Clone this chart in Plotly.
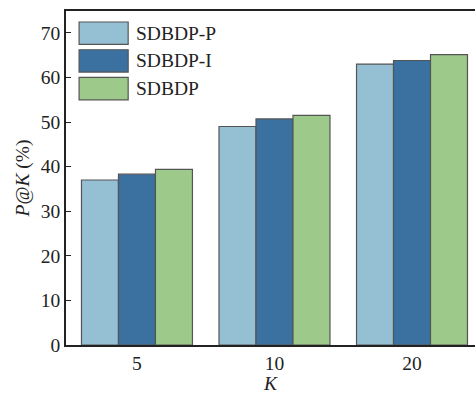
import plotly.graph_objects as go

categories = ["5", "10", "20"]
series_names = ["SDBDP-P", "SDBDP-I", "SDBDP"]
sdbdp_p = [37.0, 49.0, 63.0]
sdbdp_i = [38.3, 50.7, 63.8]
sdbdp = [39.4, 51.5, 65.1]
colors = ["#95bfd3", "#3a71a0", "#9dc98a"]
y_ticks = [0, 10, 20, 30, 40, 50, 60, 70]

FONT = "Liberation Serif"
FS = 19.5

fig = go.Figure()
for name, vals, col in zip(series_names, [sdbdp_p, sdbdp_i, sdbdp], colors):
    fig.add_trace(go.Bar(x=categories, y=vals, name=name, marker=dict(color=col, line=dict(color="#555555", width=1.2)), showlegend=False))

# manual legend with large swatches
for i, (name, col) in enumerate(zip(series_names, colors)):
    y0 = 0.967 - i * 0.083
    fig.add_shape(type="rect", xref="paper", yref="paper", x0=0.032, x1=0.152, y0=y0 - 0.067, y1=y0,
                  fillcolor=col, line=dict(color="#555555", width=1.2))
    fig.add_annotation(xref="paper", yref="paper", x=0.166, y=y0 - 0.0335, text=name, showarrow=False,
                       xanchor="left", yanchor="middle", font=dict(family=FONT, size=FS, color="#222"))

fig.update_layout(
    width=475, height=394,
    margin=dict(l=66, r=0, t=11, b=49),
    paper_bgcolor="white", plot_bgcolor="white",
    barmode="group", bargap=0.193, bargroupgap=0,
    font=dict(family=FONT, size=FS, color="#222"),
    xaxis=dict(range=[-0.516, 2.458], showline=True, linecolor="#222", linewidth=1.5, mirror=True,
               ticks="", showgrid=False, tickfont=dict(size=FS),
               title=dict(text="<i>K</i>", font=dict(size=FS), standoff=4)),
    yaxis=dict(range=[0, 74.9], tickvals=y_ticks, showline=True, linecolor="#222", linewidth=1.5,
               ticks="inside", ticklen=5, tickcolor="#222", showgrid=False, zeroline=False,
               tickfont=dict(size=FS),
               title=dict(text="<i>P</i>@<i>K</i> (%)", font=dict(size=FS), standoff=6)),
)

fig.write_html("out.html", config={"displayModeBar": False},
               post_script="document.body.style.margin='0px';document.body.style.overflow='hidden';")
